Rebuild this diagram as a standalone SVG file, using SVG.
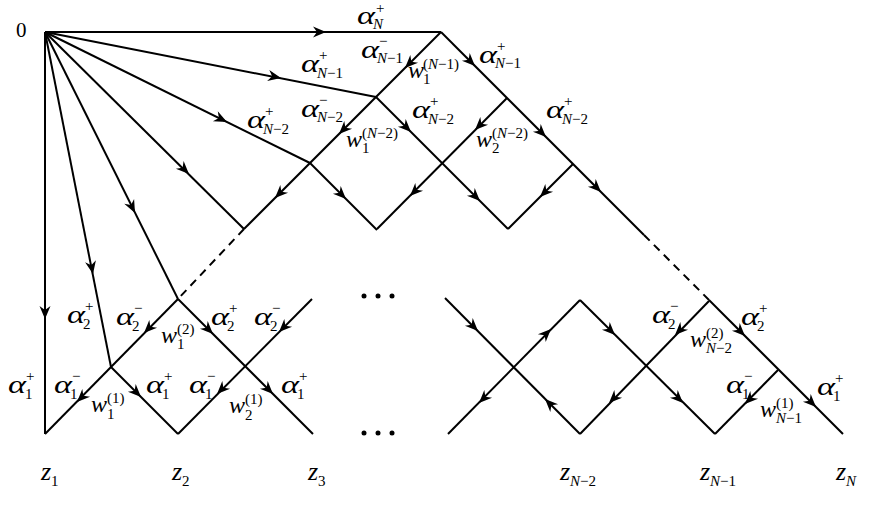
<svg xmlns="http://www.w3.org/2000/svg" xmlns:xlink="http://www.w3.org/1999/xlink" width="872" height="505" viewBox="0 0 872 505">
<style>
.ln{stroke:#000;stroke-width:2;fill:none;stroke-linecap:butt}
.dash{stroke-dasharray:8 6}
.a{font-family:"Liberation Serif","Times New Roman",serif;font-style:italic;font-size:26px;fill:#000}
.m{font-family:"Liberation Serif","Times New Roman",serif;font-style:italic;font-size:24px;fill:#000}
.z{font-family:"Liberation Serif","Times New Roman",serif;font-style:italic;font-size:26px;fill:#000}
.s{font-family:"Liberation Serif","Times New Roman",serif;font-style:italic;font-size:15px;fill:#000}
.u{font-style:normal}
.zero{font-family:"Liberation Serif","Times New Roman",serif;font-size:21px;fill:#000}
.dot{fill:#000}
</style>
<defs>
<path id="ah" d="M0,0 L-13,-5.5 L-9,0 L-13,5.5 Z" fill="#000"/>
</defs>
<rect width="872" height="505" fill="#fff"/>
<g id="connectors">
<path class="ln" d="M45,32 H441"/>
<path class="ln" d="M45,32 V434"/>
<path class="ln" d="M45,32 L376,97"/>
<path class="ln" d="M45,32 L310,163"/>
<path class="ln" d="M45,32 L244,229"/>
<path class="ln" d="M45,32 L178,299"/>
<path class="ln" d="M45,32 L111,367"/>
<path class="ln" d="M441,32 L244,229"/>
<path class="ln dash" d="M244,229 L178,299"/>
<path class="ln" d="M441,32 L644,235"/>
<path class="ln dash" d="M644,235 L709,300"/>
<path class="ln" d="M709,300 L843,434"/>
<path class="ln" d="M507,98 L377,229"/>
<path class="ln" d="M376,97 L508,229"/>
<path class="ln" d="M573,164 L508,229"/>
<path class="ln" d="M310,163 L377,230"/>
<path class="ln" d="M178,299 L45,434"/>
<path class="ln" d="M111,367 L178,434"/>
<path class="ln" d="M178,299 L313,434"/>
<path class="ln" d="M312,299 L178,434"/>
<path class="ln" d="M445,298 L580,434"/>
<path class="ln" d="M448,434 L580,300"/>
<path class="ln" d="M580,300 L715,434"/>
<path class="ln" d="M709,301 L580,434"/>
<path class="ln" d="M715,434 L778,370"/>
<use xlink:href="#ah" transform="translate(326,32)"/>
<use xlink:href="#ah" transform="translate(45,319) rotate(90)"/>
<use xlink:href="#ah" transform="translate(281,78) rotate(11.1)"/>
<use xlink:href="#ah" transform="translate(227,122) rotate(26.2)"/>
<use xlink:href="#ah" transform="translate(189,174) rotate(44.6)"/>
<use xlink:href="#ah" transform="translate(135,213) rotate(63.4)"/>
<use xlink:href="#ah" transform="translate(93,274) rotate(78.9)"/>
<use xlink:href="#ah" transform="translate(405,68) rotate(135)"/>
<use xlink:href="#ah" transform="translate(339,134) rotate(135)"/>
<use xlink:href="#ah" transform="translate(275,198) rotate(135)"/>
<use xlink:href="#ah" transform="translate(475,66) rotate(45)"/>
<use xlink:href="#ah" transform="translate(546,137) rotate(45)"/>
<use xlink:href="#ah" transform="translate(601,192) rotate(45)"/>
<use xlink:href="#ah" transform="translate(745,336) rotate(45)"/>
<use xlink:href="#ah" transform="translate(816,407) rotate(45)"/>
<use xlink:href="#ah" transform="translate(475,130) rotate(135)"/>
<use xlink:href="#ah" transform="translate(410,196) rotate(135)"/>
<use xlink:href="#ah" transform="translate(411,132) rotate(45)"/>
<use xlink:href="#ah" transform="translate(480,201) rotate(45)"/>
<use xlink:href="#ah" transform="translate(540,197) rotate(135)"/>
<use xlink:href="#ah" transform="translate(346,199) rotate(45)"/>
<use xlink:href="#ah" transform="translate(144,333) rotate(135)"/>
<use xlink:href="#ah" transform="translate(77,402) rotate(135)"/>
<use xlink:href="#ah" transform="translate(141,397) rotate(45)"/>
<use xlink:href="#ah" transform="translate(213,334) rotate(45)"/>
<use xlink:href="#ah" transform="translate(273,394) rotate(45)"/>
<use xlink:href="#ah" transform="translate(279,332) rotate(135)"/>
<use xlink:href="#ah" transform="translate(217,394) rotate(135)"/>
<use xlink:href="#ah" transform="translate(478,331) rotate(45)"/>
<use xlink:href="#ah" transform="translate(545,399) rotate(-135)"/>
<use xlink:href="#ah" transform="translate(479,403) rotate(135)"/>
<use xlink:href="#ah" transform="translate(551,329) rotate(-45)"/>
<use xlink:href="#ah" transform="translate(615,335) rotate(45)"/>
<use xlink:href="#ah" transform="translate(683,403) rotate(45)"/>
<use xlink:href="#ah" transform="translate(675,335) rotate(135)"/>
<use xlink:href="#ah" transform="translate(609,403) rotate(135)"/>
<use xlink:href="#ah" transform="translate(745,404) rotate(135)"/>
</g>
<g id="dots">
<circle class="dot" cx="364" cy="296" r="2.5"/><circle class="dot" cx="378" cy="296" r="2.5"/><circle class="dot" cx="392" cy="296" r="2.5"/>
<circle class="dot" cx="364" cy="433" r="2.5"/><circle class="dot" cx="378" cy="433" r="2.5"/><circle class="dot" cx="392" cy="433" r="2.5"/>
</g>
<g id="origin"><text class="zero" x="16" y="37">0</text></g>
<g id="labels-top">
<g id="aN"><text class="a" x="357" y="24" textLength="18" lengthAdjust="spacingAndGlyphs">α</text><text class="s u" x="376" y="13">+</text><text class="s" x="373" y="29">N</text></g>
<g id="aN1m"><text class="a" x="361" y="58" textLength="18" lengthAdjust="spacingAndGlyphs">α</text><text class="s u" x="379" y="46">−</text><text class="s" x="377" y="63">N<tspan class="u">−1</tspan></text></g>
<g id="aN1p-ray"><text class="a" x="301" y="72" textLength="18" lengthAdjust="spacingAndGlyphs">α</text><text class="s u" x="319" y="60">+</text><text class="s" x="317" y="78">N<tspan class="u">−1</tspan></text></g>
<g id="w1N1"><text class="m" x="408" y="78">w</text><text class="s" x="423" y="69"><tspan class="u">(</tspan>N<tspan class="u">−1)</tspan></text><text class="s u" x="423" y="84">1</text></g>
<g id="aN1p-right"><text class="a" x="479" y="63" textLength="18" lengthAdjust="spacingAndGlyphs">α</text><text class="s u" x="497" y="51">+</text><text class="s" x="495" y="68">N<tspan class="u">−1</tspan></text></g>
<g id="aN2p-ray"><text class="a" x="247" y="128" textLength="18" lengthAdjust="spacingAndGlyphs">α</text><text class="s u" x="265" y="116">+</text><text class="s" x="263" y="134">N<tspan class="u">−2</tspan></text></g>
<g id="aN2m"><text class="a" x="301" y="117" textLength="18" lengthAdjust="spacingAndGlyphs">α</text><text class="s u" x="319" y="105">−</text><text class="s" x="317" y="122">N<tspan class="u">−2</tspan></text></g>
<g id="w1N2"><text class="m" x="346" y="147">w</text><text class="s" x="362" y="138"><tspan class="u">(</tspan>N<tspan class="u">−2)</tspan></text><text class="s u" x="362" y="153">1</text></g>
<g id="aN2p-mid"><text class="a" x="412" y="118" textLength="18" lengthAdjust="spacingAndGlyphs">α</text><text class="s u" x="430" y="106">+</text><text class="s" x="428" y="124">N<tspan class="u">−2</tspan></text></g>
<g id="w2N2"><text class="m" x="476" y="147">w</text><text class="s" x="492" y="138"><tspan class="u">(</tspan>N<tspan class="u">−2)</tspan></text><text class="s u" x="492" y="153">2</text></g>
<g id="aN2p-right"><text class="a" x="546" y="118" textLength="18" lengthAdjust="spacingAndGlyphs">α</text><text class="s u" x="564" y="106">+</text><text class="s" x="562" y="124">N<tspan class="u">−2</tspan></text></g>
</g>
<g id="labels-lower-left">
<g id="a2p-ray"><text class="a" x="67" y="323" textLength="18" lengthAdjust="spacingAndGlyphs">α</text><text class="s u" x="85" y="311">+</text><text class="s u" x="83" y="329">2</text></g>
<g id="a2m"><text class="a" x="116" y="325" textLength="18" lengthAdjust="spacingAndGlyphs">α</text><text class="s u" x="134" y="313">−</text><text class="s u" x="132" y="331">2</text></g>
<g id="w12"><text class="m" x="161" y="343">w</text><text class="s u" x="177" y="334">(2)</text><text class="s u" x="177" y="349">1</text></g>
<g id="a2p-mid"><text class="a" x="211" y="325" textLength="18" lengthAdjust="spacingAndGlyphs">α</text><text class="s u" x="229" y="313">+</text><text class="s u" x="227" y="331">2</text></g>
<g id="a2m-right"><text class="a" x="254" y="325" textLength="18" lengthAdjust="spacingAndGlyphs">α</text><text class="s u" x="272" y="313">−</text><text class="s u" x="270" y="331">2</text></g>
<g id="a1p-left"><text class="a" x="8" y="393" textLength="18" lengthAdjust="spacingAndGlyphs">α</text><text class="s u" x="26" y="381">+</text><text class="s u" x="25" y="399">1</text></g>
<g id="a1m"><text class="a" x="54" y="393" textLength="18" lengthAdjust="spacingAndGlyphs">α</text><text class="s u" x="72" y="381">−</text><text class="s u" x="70" y="399">1</text></g>
<g id="w11"><text class="m" x="91" y="412">w</text><text class="s u" x="107" y="403">(1)</text><text class="s u" x="107" y="419">1</text></g>
<g id="a1p-mid"><text class="a" x="146" y="393" textLength="18" lengthAdjust="spacingAndGlyphs">α</text><text class="s u" x="164" y="381">+</text><text class="s u" x="162" y="399">1</text></g>
<g id="a1m-mid"><text class="a" x="189" y="393" textLength="18" lengthAdjust="spacingAndGlyphs">α</text><text class="s u" x="207" y="381">−</text><text class="s u" x="205" y="399">1</text></g>
<g id="w21"><text class="m" x="229" y="413">w</text><text class="s u" x="245" y="404">(1)</text><text class="s u" x="245" y="420">2</text></g>
<g id="a1p-right"><text class="a" x="281" y="393" textLength="18" lengthAdjust="spacingAndGlyphs">α</text><text class="s u" x="299" y="381">+</text><text class="s u" x="297" y="399">1</text></g>
</g>
<g id="labels-lower-right">
<g id="a2m-r"><text class="a" x="652" y="323" textLength="18" lengthAdjust="spacingAndGlyphs">α</text><text class="s u" x="670" y="311">−</text><text class="s u" x="668" y="329">2</text></g>
<g id="wN22"><text class="m" x="690" y="347">w</text><text class="s u" x="706" y="338">(2)</text><text class="s" x="706" y="353">N<tspan class="u">−2</tspan></text></g>
<g id="a2p-r"><text class="a" x="741" y="325" textLength="18" lengthAdjust="spacingAndGlyphs">α</text><text class="s u" x="759" y="313">+</text><text class="s u" x="757" y="331">2</text></g>
<g id="a1m-r"><text class="a" x="726" y="393" textLength="18" lengthAdjust="spacingAndGlyphs">α</text><text class="s u" x="744" y="381">−</text><text class="s u" x="742" y="399">1</text></g>
<g id="wN11"><text class="m" x="760" y="417">w</text><text class="s u" x="776" y="408">(1)</text><text class="s" x="776" y="423">N<tspan class="u">−1</tspan></text></g>
<g id="a1p-r"><text class="a" x="817" y="395" textLength="18" lengthAdjust="spacingAndGlyphs">α</text><text class="s u" x="835" y="383">+</text><text class="s u" x="833" y="401">1</text></g>
</g>
<g id="z-labels">
<g id="z1"><text class="z" x="41" y="480">z</text><text class="s u" x="51" y="486">1</text></g>
<g id="z2"><text class="z" x="172" y="480">z</text><text class="s u" x="182" y="486">2</text></g>
<g id="z3"><text class="z" x="308" y="480">z</text><text class="s u" x="318" y="486">3</text></g>
<g id="zN2"><text class="z" x="560" y="480">z</text><text class="s" x="570" y="486">N<tspan class="u">−2</tspan></text></g>
<g id="zN1"><text class="z" x="700" y="480">z</text><text class="s" x="710" y="486">N<tspan class="u">−1</tspan></text></g>
<g id="zN"><text class="z" x="836" y="480">z</text><text class="s" x="846" y="486">N</text></g>
</g>
</svg>
